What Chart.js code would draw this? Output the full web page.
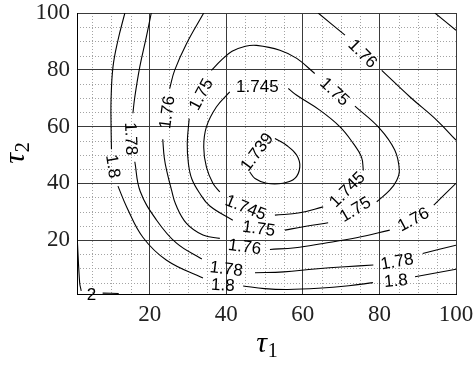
<!DOCTYPE html>
<html>
<head>
<meta charset="utf-8">
<script src="https://cdn.jsdelivr.net/npm/chart.js@4/dist/chart.umd.min.js"></script>
<style>
  html, body { margin: 0; padding: 0; background: #fff; }
  #wrap { width: 473px; height: 365px; }
</style>
</head>
<body>
<div id="wrap"><canvas id="c" width="473" height="365"></canvas></div>
<script>
// Contour pieces of the cost surface J(tau1, tau2), split where the inline labels sit.
// Each piece is a list of [tau1, tau2] points.
const c1739 = [
  [[52.7,55.8],[55.7,53.4],[58.4,49.9],[59.2,45.8],[57.9,41.7],[54.8,40.0],[50.5,40.0],[47.5,41.7],[46.1,44.0]]
];
const c1745 = [
  [[56.2,73.4],[58.4,71.0],[64.4,65.8],[69.7,59.9],[73.2,54.0],[75.3,49.3],[75.8,44.5]],
  [[65.3,31.7],[59.2,29.6],[52.7,28.8]],
  [[38.3,37.0],[36.5,40.0],[34.8,45.8],[34.1,52.8],[34.8,59.9],[37.4,66.9],[40.9,72.2]]
];
const c175 = [
  [[36.1,79.8],[38.7,83.4],[41.5,86.5],[45.0,88.3],[47.9,88.6],[54.0,86.9],[58.4,84.0],[63.1,78.7]],
  [[73.6,67.2],[80.1,59.3],[84.0,51.7],[85.2,44.6],[84.5,41.0],[82.7,37.6],[79.3,33.5]],
  [[66.6,26.1],[60.1,24.7],[55.3,23.5]],
  [[41.7,27.0],[35.7,32.0],[33.1,36.4],[31.0,41.5],[30.1,47.0],[29.8,54.0],[30.3,62.8]]
];
const c176 = [
  [[34.1,100],[29.6,89.2],[26.5,79.8],[25.2,73.4]],
  [[23.4,55.5],[23.8,49.0],[24.5,44.0],[25.7,37.6],[26.8,32.5],[29.6,25.9],[33.9,21.8],[38.3,20.6]],
  [[51.4,16.7],[58.0,17.3],[65.3,18.8],[74.0,20.8],[82.7,23.5]],
  [[94.2,32.3],[100,40.0]],
  [[64.0,100],[71.0,92.2]],
  [[80.6,79.8],[88.0,70.4],[95.0,62.2],[100,55.2]]
];
const c178 = [
  [[20.4,100],[19.1,91.5],[17.4,81.0],[16.1,70.4],[15.6,64.7]],
  [[16.1,47.6],[17.5,37.2],[21.8,27.0],[27.0,18.9],[33.6,13.3]],
  [[47.5,8.5],[55.0,8.8],[63.1,9.8],[71.0,10.6],[78.4,11.2]],
  [[91.3,15.3],[100,18.2]],
  [[94.5,100],[100,93.9]]
];
const c18 = [
  [[13.5,100],[11.7,90.4],[10.4,81.0],[9.9,69.5],[9.9,60.0],[10.0,52.0]],
  [[11.7,39.0],[14.0,31.6],[18.2,21.0],[24.4,12.9],[33.9,6.6]],
  [[44.4,3.8],[50.0,2.9],[56.0,2.6],[64.0,3.0],[72.0,3.9],[78.3,5.0]],
  [[89.3,7.1],[100,9.7]]
];
const c2 = [
  [[1.1,19.6],[1.7,4.9],[2.1,2.1]],
  [[7.7,1.3],[11.9,1.2]]
];

// Inline contour labels: text, position (tau1, tau2) and angle in degrees
const labelText  = ['1.739','1.745','1.745','1.745','1.75','1.75','1.75','1.75','1.76','1.76','1.76','1.76','1.78','1.78','1.78','1.8','1.8','1.8','2'];
const labelTau1  = [47.9, 48.1, 45.1, 71.5, 33.3, 68.4, 73.6, 48.5, 24.4, 44.8, 88.8, 75.7, 15.2, 40.0, 84.6, 10.5, 39.1, 84.3, 4.8];
const labelTau2  = [51.1, 74.2, 31.6, 37.9, 71.4, 72.4, 30.9, 24.2, 65.0, 17.8, 27.4, 85.8, 55.7, 10.0, 12.6, 46.0, 4.3, 5.8, 1.0];
const labelAngle = [-53, 0, 22, -45, -62, 43, -31, 8, -82, 8, -28, 45, 88, 7, -10, 81, 3, -5, 0];

// Axis ticks and grid spacing
const xTicks = [20, 40, 60, 80, 100];
const yTicks = [20, 40, 60, 80, 100];
const minorStep = 5;
const axisMin = 1, axisMax = 100;

const pieces = [].concat(c1739, c1745, c175, c176, c178, c18, c2);
const datasets = pieces.map(p => ({
  data: p.map(([x, y]) => ({ x, y })),
  showLine: true,
  borderColor: '#000',
  borderWidth: 1.1,
  pointRadius: 0,
  tension: 0.4,
  fill: false
}));

const serif = '"Liberation Serif"';

const minorGrid = {
  id: 'minorGrid',
  beforeDraw(chart) {
    const { ctx, chartArea: a, scales: { x, y } } = chart;
    ctx.save();
    ctx.strokeStyle = '#a3a3a3';
    ctx.lineWidth = 1;
    ctx.setLineDash([1, 2]);
    for (let v = minorStep; v < axisMax; v += minorStep) {
      if (xTicks.includes(v)) continue;
      const px = Math.round(x.getPixelForValue(v)) + 0.5;
      ctx.beginPath(); ctx.moveTo(px, a.top); ctx.lineTo(px, a.bottom); ctx.stroke();
    }
    for (let v = minorStep; v < axisMax; v += minorStep) {
      if (yTicks.includes(v)) continue;
      const py = Math.round(y.getPixelForValue(v)) + 0.5;
      ctx.beginPath(); ctx.moveTo(a.left, py); ctx.lineTo(a.right, py); ctx.stroke();
    }
    ctx.restore();
  }
};

const contourLabels = {
  id: 'contourLabels',
  afterDatasetsDraw(chart) {
    const { ctx, scales: { x, y } } = chart;
    ctx.save();
    ctx.fillStyle = '#000';
    ctx.font = '17px "Liberation Sans"';
    ctx.textAlign = 'center';
    ctx.textBaseline = 'middle';
    labelText.forEach((t, i) => {
      ctx.save();
      ctx.translate(x.getPixelForValue(labelTau1[i]), y.getPixelForValue(labelTau2[i]));
      ctx.rotate(labelAngle[i] * Math.PI / 180);
      ctx.fillText(t, 0, 1);
      ctx.restore();
    });
    ctx.restore();
  }
};

function subTitle(ctx, main, sub, cx, baseY) {
  ctx.font = 'italic 30px ' + serif;
  const wm = ctx.measureText(main).width;
  ctx.font = '20px ' + serif;
  const ws = ctx.measureText(sub).width;
  const x0 = cx - (wm + ws) / 2;
  ctx.font = 'italic 30px ' + serif;
  ctx.fillText(main, x0, baseY);
  ctx.font = '20px ' + serif;
  ctx.fillText(sub, x0 + wm + 1, baseY + 5);
}

const axisTitles = {
  id: 'axisTitles',
  afterDraw(chart) {
    const { ctx, chartArea: a } = chart;
    ctx.save();
    ctx.fillStyle = '#000';
    ctx.textAlign = 'left';
    ctx.textBaseline = 'alphabetic';
    subTitle(ctx, 'τ', '1', (a.left + a.right) / 2, 352);
    ctx.translate(24, (a.top + a.bottom) / 2);
    ctx.rotate(-Math.PI / 2);
    subTitle(ctx, 'τ', '2', 0, 0);
    ctx.restore();
  }
};

const tickFont = { family: 'Liberation Serif', size: 23, lineHeight: 1 };

new Chart(document.getElementById('c'), {
  type: 'scatter',
  data: { datasets },
  plugins: [minorGrid, contourLabels, axisTitles],
  options: {
    responsive: false,
    devicePixelRatio: 1,
    animation: false,
    layout: { padding: { top: 13, right: 17, left: 0, bottom: 0 } },
    plugins: { legend: { display: false }, tooltip: { enabled: false } },
    scales: {
      x: {
        type: 'linear', min: axisMin, max: axisMax,
        afterBuildTicks: s => { s.ticks = xTicks.map(v => ({ value: v })); },
        afterFit: s => { s.height = 71; s.paddingLeft = 0; s.paddingRight = 0; },
        grid: { color: '#3a3a3a', lineWidth: 1, drawTicks: false },
        border: { display: true, color: '#000', width: 1 },
        ticks: { font: tickFont, color: '#222', padding: 9, maxRotation: 0 }
      },
      y: {
        type: 'linear', min: axisMin, max: axisMax,
        afterBuildTicks: s => { s.ticks = yTicks.map(v => ({ value: v })); },
        afterFit: s => { s.width = 77; s.paddingTop = 0; s.paddingBottom = 0; },
        grid: { color: '#3a3a3a', lineWidth: 1, drawTicks: false },
        border: { display: true, color: '#000', width: 1 },
        ticks: { font: tickFont, color: '#222', padding: 7 }
      }
    }
  }
});
</script>
</body>
</html>
